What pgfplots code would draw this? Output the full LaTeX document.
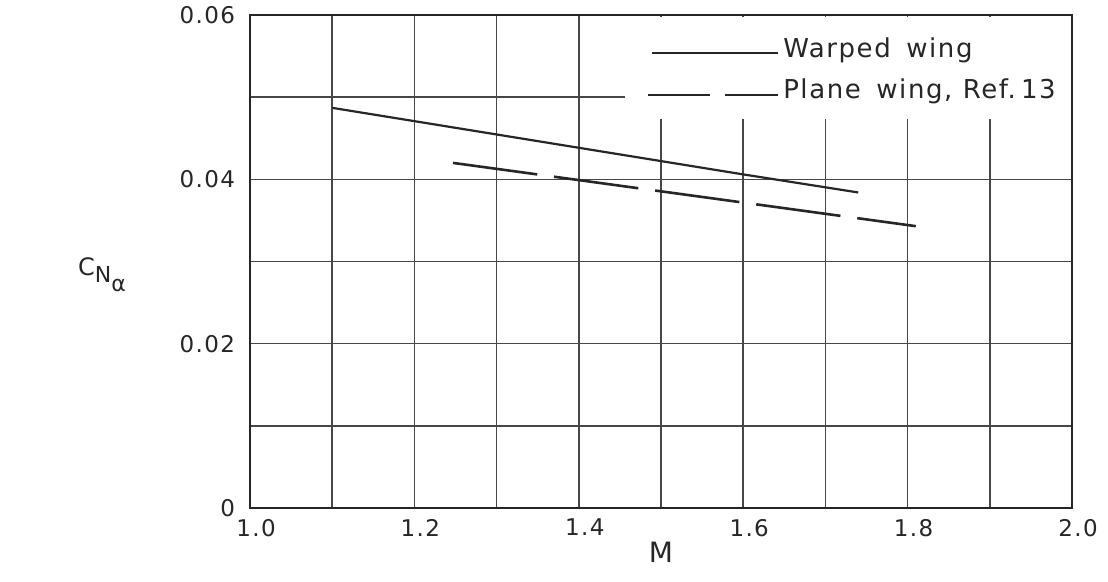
\documentclass[border=0pt]{standalone}
\usepackage{pgfplots}
\pgfplotsset{compat=1.18}
\usepackage{fontspec}
\setmainfont{DejaVu Sans}[LetterSpace=6]
\begin{document}
\begin{tikzpicture}
\begin{axis}[
  name=ax,
  scale only axis,
  width=411pt, height=246.5pt,
  xmin=1.0, xmax=2.0, ymin=0, ymax=0.06,
  xtick={1.0,1.1,1.2,1.3,1.4,1.5,1.6,1.7,1.8,1.9,2.0},
  ytick={0,0.01,0.02,0.03,0.04,0.05,0.06},
  xticklabels={1.0,{},1.2,{},1.4,{},1.6,{},1.8,{},2.0},
  yticklabels={0,{},0.02,{},0.04,{},0.06},
  scaled ticks=false,
  xmajorgrids, ymajorgrids,
  major grid style={black!72, line width=0.8pt},
  tick style={draw=none},
  axis line style={black!85, line width=1.1pt},
  tick label style={font=\fontsize{11.5}{14}\selectfont, text=black!85},
  xticklabel style={yshift=-2pt, xshift=3pt},
  yticklabel style={xshift=-4pt},
  xlabel={M},
  xlabel style={font=\fontsize{14}{16}\selectfont, text=black!85, yshift=4pt},
  ylabel={\fontsize{12}{14}\selectfont C\raisebox{-0.55ex}{\fontsize{11}{13}\selectfont N\raisebox{-0.8ex}{\fontsize{11}{13}\selectfont α}}},
  ylabel style={rotate=-90, anchor=center, at={(axis description cs:-0.180,0.473)}, text=black!85},
  legend style={draw=none, fill=none, at={(0.988,0.967)}, anchor=north east,
    font=\fontsize{13}{15}\selectfont, text=black!85, row sep=5pt, inner sep=1pt},
  legend cell align=left,
]
\fill[white] (axis cs:1.456,0.0474) rectangle (axis cs:1.9986,0.0597);
\addplot[black!85, line width=1.1pt,
  legend image code/.code={\draw[black!85, line width=1.1pt] (-63pt,-2pt) -- (0pt,-2pt);}]
  coordinates {(1.1,0.0487) (1.6,0.0406) (1.74,0.0384)};
\addlegendentry{Warped\hspace{0.6em}wing}
\addplot[black!85, line width=1.3pt, dash pattern=on 42.5pt off 8.5pt,
  legend image code/.code={\draw[black!85, line width=1.1pt] (-65pt,-2.5pt) -- (-34pt,-2.5pt) (-26.5pt,-2.5pt) -- (0pt,-2.5pt);}]
  coordinates {(1.247,0.0420) (1.81,0.0343)};
\addlegendentry{Plane\hspace{0.6em}wing,\hspace{0.4em}Ref.\hspace{0.2em}13}
\end{axis}
\pgfresetboundingbox
\path[use as bounding box] ([shift={(-125pt,-37pt)}]ax.south west) rectangle ([shift={(18pt,7.5pt)}]ax.north east);
\end{tikzpicture}
\end{document}
